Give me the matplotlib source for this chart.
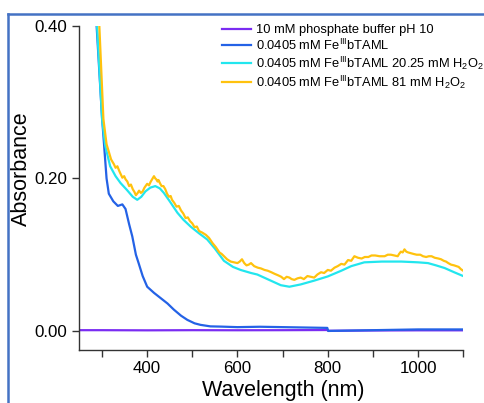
import matplotlib
matplotlib.use('Agg')
import matplotlib.pyplot as plt
from matplotlib.lines import Line2D

plt.rcParams['font.family'] = ['Liberation Sans', 'DejaVu Sans']
plt.rcParams['mathtext.fontset'] = 'custom'
plt.rcParams['mathtext.rm'] = 'Liberation Sans'
plt.rcParams['mathtext.it'] = 'Liberation Sans:italic'

# buffer baseline
buf_nm = [250, 300, 400, 500, 600, 700, 799, 801, 900, 1000, 1100]
buf_abs = [0.001, 0.001, 0.0008, 0.001, 0.0009, 0.001, 0.0012, 0.0002, 0.0006, 0.0008, 0.0008]

# Fe(III) bTAML
fe_nm = [285, 288, 295, 300, 305, 310, 315, 325, 335, 345, 352, 360, 367, 375, 381, 390, 400,
         415, 430, 445, 459, 475, 489, 505, 518, 540, 563, 600, 650, 700, 750, 799, 801, 850,
         900, 1000, 1100]
fe_abs = [0.45, 0.40, 0.33, 0.28, 0.24, 0.20, 0.18, 0.17, 0.164, 0.166, 0.16, 0.14, 0.124, 0.10,
          0.089, 0.072, 0.058, 0.05, 0.043, 0.036, 0.028, 0.02, 0.0145, 0.01, 0.008, 0.006,
          0.0057, 0.005, 0.0055, 0.005, 0.0045, 0.004, 0.0, 0.0005, 0.001, 0.002, 0.002]

# Fe(III) bTAML + 20.25 mM H2O2
h20_nm = [285, 289, 300, 307, 318, 330, 341, 355, 368, 378, 387, 396, 407, 418, 428, 437, 450,
          467, 480, 496, 515, 533, 550, 570, 590, 607, 630, 644, 670, 696, 715, 740, 770, 800,
          830, 852, 881, 920, 963, 1000, 1022, 1040, 1059, 1080, 1100]
h20_abs = [0.44, 0.40, 0.278, 0.243, 0.216, 0.203, 0.194, 0.185, 0.176, 0.172, 0.176, 0.183,
           0.188, 0.19, 0.187, 0.181, 0.17, 0.155, 0.146, 0.137, 0.128, 0.12, 0.108, 0.092,
           0.084, 0.080, 0.076, 0.074, 0.067, 0.06, 0.058, 0.061, 0.066, 0.0715, 0.079, 0.085,
           0.09, 0.091, 0.091, 0.09, 0.089, 0.086, 0.0825, 0.077, 0.072]

# Fe(III) bTAML + 81 mM H2O2 (noisy trace)
h81_nm = [290, 294, 303, 310, 320, 326, 330, 334, 338, 342, 345, 349, 352, 356, 360, 364, 368,
          372, 375, 379, 382, 386, 390, 394, 400, 404, 408, 411, 415, 418, 420, 423, 425, 429,
          432, 436, 440, 444, 448, 452, 455, 460, 465, 470, 475, 480, 485, 490, 495, 500, 505,
          510, 515, 522, 530, 537, 545, 552, 560, 565, 570, 577, 585, 592, 600, 605, 610, 615,
          620, 625, 630, 637, 645, 652, 660, 667, 675, 682, 690, 697, 703, 709, 715, 720, 726,
          733, 740, 747, 755, 762, 770, 777, 785, 792, 800, 807, 815, 822, 830, 837, 845, 852,
          859, 867, 875, 882, 890, 897, 905, 915, 926, 933, 940, 947, 955, 958, 962, 966, 970,
          974, 978, 984, 990, 997, 1005, 1011, 1018, 1024, 1030, 1037, 1045, 1051, 1057, 1062,
          1067, 1073, 1080, 1085, 1090, 1095, 1100]
h81_abs = [0.44, 0.40, 0.278, 0.245, 0.225, 0.219, 0.214, 0.216, 0.21, 0.205, 0.201, 0.203,
           0.199, 0.196, 0.19, 0.192, 0.186, 0.182, 0.178, 0.181, 0.184, 0.181, 0.183, 0.188,
           0.193, 0.191, 0.196, 0.199, 0.203, 0.2, 0.199, 0.196, 0.198, 0.193, 0.19, 0.19,
           0.186, 0.18, 0.176, 0.177, 0.172, 0.168, 0.163, 0.164, 0.158, 0.154, 0.148, 0.149,
           0.144, 0.141, 0.136, 0.137, 0.131, 0.129, 0.126, 0.122, 0.115, 0.11, 0.103, 0.101,
           0.098, 0.094, 0.091, 0.09, 0.089, 0.091, 0.094, 0.089, 0.086, 0.087, 0.089, 0.085,
           0.083, 0.082, 0.080, 0.079, 0.077, 0.075, 0.073, 0.071, 0.068, 0.071, 0.070, 0.068,
           0.067, 0.069, 0.070, 0.068, 0.072, 0.071, 0.070, 0.074, 0.077, 0.076, 0.080, 0.079,
           0.083, 0.085, 0.088, 0.087, 0.093, 0.092, 0.098, 0.096, 0.095, 0.097, 0.097, 0.099,
           0.099, 0.098, 0.098, 0.1, 0.100, 0.099, 0.098, 0.101, 0.104, 0.103, 0.107, 0.104,
           0.103, 0.102, 0.101, 0.1, 0.100, 0.098, 0.097, 0.098, 0.098, 0.096, 0.095, 0.094,
           0.092, 0.091, 0.089, 0.087, 0.086, 0.085, 0.084, 0.081, 0.079]

labels = ['10 mM phosphate buffer pH 10',
          r'0.0405 mM Fe$^{\mathrm{III}}$bTAML',
          r'0.0405 mM Fe$^{\mathrm{III}}$bTAML 20.25 mM H$_{\mathrm{2}}$O$_{\mathrm{2}}$',
          r'0.0405 mM Fe$^{\mathrm{III}}$bTAML 81 mM H$_{\mathrm{2}}$O$_{\mathrm{2}}$']
colors = ['#7A2CF2', '#2462E6', '#22E6EE', '#FFC20E']

fig = plt.figure(figsize=(4.85, 4.03), dpi=100)
ax = fig.add_axes([0.162, 0.1315, 0.793, 0.804])

ax.plot(buf_nm, buf_abs, color=colors[0], lw=1.6, label=labels[0])
ax.plot(fe_nm, fe_abs, color=colors[1], lw=1.6, label=labels[1])
ax.plot(h20_nm, h20_abs, color=colors[2], lw=1.6, label=labels[2])
ax.plot(h81_nm, h81_abs, color=colors[3], lw=1.6, label=labels[3])

ax.set_xlim(248, 1100)
ax.set_ylim(-0.025, 0.40)
ax.set_xticks([400, 600, 800, 1000])
ax.set_xticks([300, 500, 700, 900, 1100], minor=True)
ax.set_yticks([0.0, 0.2, 0.4])
ax.set_yticklabels(['0.00', '0.20', '0.40'])
for s in ['top', 'right']:
    ax.spines[s].set_visible(False)
for s in ['left', 'bottom']:
    ax.spines[s].set_color('#333333')
    ax.spines[s].set_linewidth(1.0)
ax.tick_params(which='both', direction='out', length=5, width=1, color='#333333',
               labelsize=12.2, pad=3)

ax.set_xlabel('Wavelength (nm)', fontsize=15.5)
ax.set_ylabel('Absorbance', fontsize=15.5)
ax.xaxis.set_label_coords(0.531, -0.092)
ax.yaxis.set_label_coords(-0.121, 0.56)

ax.legend(loc='upper left', bbox_to_anchor=(0.457, 0.94), bbox_transform=fig.transFigure,
          frameon=False, fontsize=9.3, handlelength=2.3, handletextpad=0.35,
          labelspacing=0.12, borderpad=0, borderaxespad=0)

# blue frame around the figure
fig.add_artist(Line2D([0.017, 0.017], [0.0, 0.966], transform=fig.transFigure,
                      color='#4472C4', lw=1.8))
fig.add_artist(Line2D([0.017, 0.997], [0.966, 0.966], transform=fig.transFigure,
                      color='#4472C4', lw=1.8))

fig.savefig('out.png', dpi=100)
